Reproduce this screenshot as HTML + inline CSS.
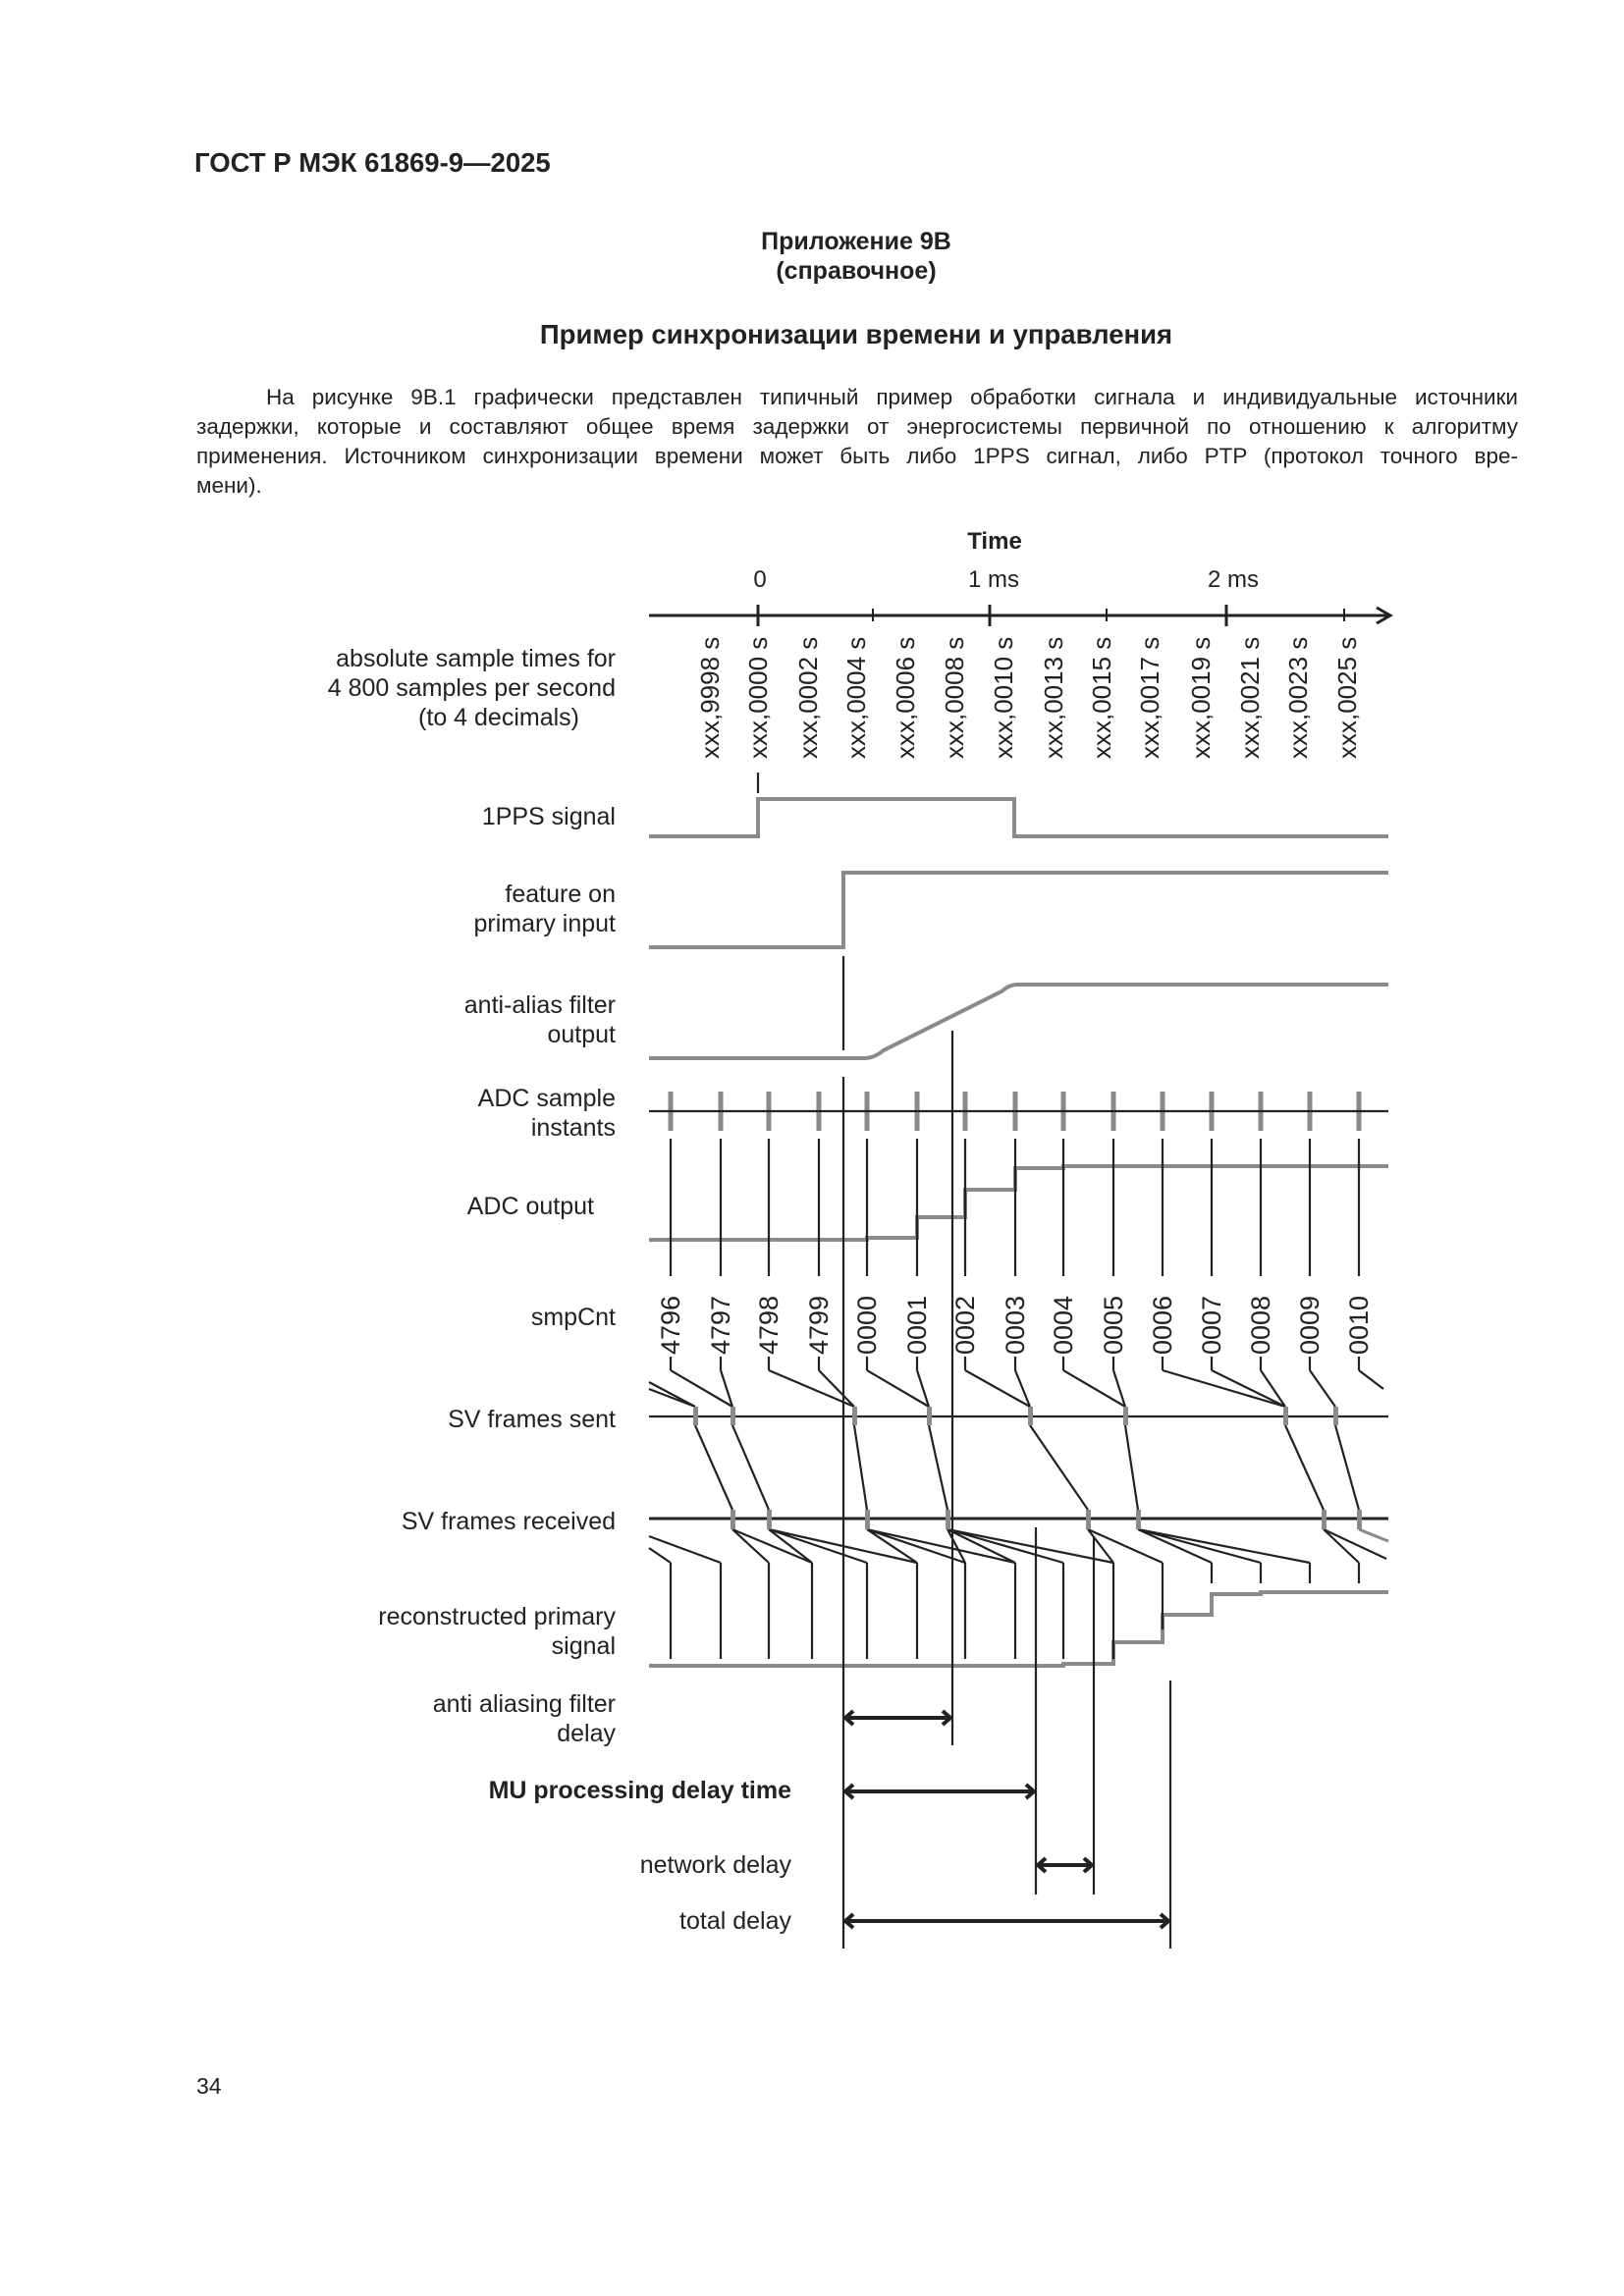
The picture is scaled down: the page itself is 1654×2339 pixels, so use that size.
<!DOCTYPE html>
<html><head><meta charset="utf-8"><style>
html,body{margin:0;padding:0;background:#fff;}
.pg{position:relative;width:1654px;height:2339px;overflow:hidden;font-family:"Liberation Sans Narrow","Liberation Sans",sans-serif;color:#222;}
.t{position:absolute;white-space:nowrap;}
.p{position:absolute;left:200px;width:1346px;font-size:22.5px;text-align:justify;text-align-last:justify;white-space:nowrap;}
</style></head><body><div class="pg">
<div class="t" style="left:198px;top:150px;font-size:27.5px;font-weight:bold;font-family:'Liberation Sans',sans-serif;">ГОСТ Р МЭК 61869-9—2025</div>
<div class="t" style="left:0;width:1744px;text-align:center;top:232px;font-size:25px;font-weight:bold;">Приложение 9В</div>
<div class="t" style="left:0;width:1744px;text-align:center;top:262px;font-size:25px;font-weight:bold;">(справочное)</div>
<div class="t" style="left:0;width:1744px;text-align:center;top:325px;font-size:27.5px;font-weight:bold;">Пример синхронизации времени и управления</div>
<div class="p" style="top:392px;padding-left:71px;width:1275px;">На рисунке 9В.1 графически представлен типичный пример обработки сигнала и индивидуальные источники</div>
<div class="p" style="top:422px;">задержки, которые и составляют общее время задержки от энергосистемы первичной по отношению к алгоритму</div>
<div class="p" style="top:452px;">применения. Источником синхронизации времени может быть либо 1PPS сигнал, либо PTP (протокол точного вре-</div>
<div class="p" style="top:482px;text-align-last:left;">мени).</div>
<div class="t" style="left:200px;top:2112px;font-size:23px;">34</div>
<svg width="1654" height="2339" style="position:absolute;left:0;top:0" font-family="Liberation Sans Narrow, Liberation Sans, sans-serif" fill="#222">
<g font-size="25" text-anchor="end">
<text x="627" y="679">absolute sample times for</text>
<text x="627" y="709">4 800 samples per second</text>
<text x="590" y="739">(to 4 decimals)</text>
<text x="627" y="840">1PPS signal</text>
<text x="627" y="919">feature on</text>
<text x="627" y="949">primary input</text>
<text x="627" y="1032">anti-alias filter</text>
<text x="627" y="1062">output</text>
<text x="627" y="1127">ADC sample</text>
<text x="627" y="1157">instants</text>
<text x="605" y="1237">ADC output</text>
<text x="627" y="1350">smpCnt</text>
<text x="627" y="1454">SV frames sent</text>
<text x="627" y="1558">SV frames received</text>
<text x="627" y="1655">reconstructed primary</text>
<text x="627" y="1685">signal</text>
<text x="627" y="1744">anti aliasing filter</text>
<text x="627" y="1774">delay</text>
<text x="806" y="1832" font-weight="bold">MU processing delay time</text>
<text x="806" y="1908">network delay</text>
<text x="806" y="1965">total delay</text>
</g>
<g font-size="24" text-anchor="middle">
<text x="1013" y="559" font-weight="bold">Time</text>
<text x="774" y="598">0</text>
<text x="1012" y="598">1 ms</text>
<text x="1256" y="598">2 ms</text>
</g>
<g stroke="#222" stroke-width="3" fill="none">
<line x1="661" y1="627" x2="1414" y2="627"/>
<polyline points="1402,619 1416,627 1402,635"/>
<line x1="772" y1="616" x2="772" y2="638"/><line x1="1008" y1="616" x2="1008" y2="638"/><line x1="1249" y1="616" x2="1249" y2="638"/>
<line x1="889" y1="620" x2="889" y2="633" stroke-width="2"/><line x1="1127" y1="620" x2="1127" y2="633" stroke-width="2"/><line x1="1369" y1="620" x2="1369" y2="633" stroke-width="2"/>
</g>
<g font-size="26" font-family="Liberation Sans, sans-serif">
<text transform="translate(732,773) rotate(-90)">xxx,9998 s</text>
<text transform="translate(781,773) rotate(-90)">xxx,0000 s</text>
<text transform="translate(832,773) rotate(-90)">xxx,0002 s</text>
<text transform="translate(881,773) rotate(-90)">xxx,0004 s</text>
<text transform="translate(931,773) rotate(-90)">xxx,0006 s</text>
<text transform="translate(981,773) rotate(-90)">xxx,0008 s</text>
<text transform="translate(1031,773) rotate(-90)">xxx,0010 s</text>
<text transform="translate(1082,773) rotate(-90)">xxx,0013 s</text>
<text transform="translate(1131,773) rotate(-90)">xxx,0015 s</text>
<text transform="translate(1180,773) rotate(-90)">xxx,0017 s</text>
<text transform="translate(1232,773) rotate(-90)">xxx,0019 s</text>
<text transform="translate(1282,773) rotate(-90)">xxx,0021 s</text>
<text transform="translate(1331,773) rotate(-90)">xxx,0023 s</text>
<text transform="translate(1381,773) rotate(-90)">xxx,0025 s</text>
</g>
<g font-size="27" font-family="Liberation Sans, sans-serif">
<text transform="translate(692,1380) rotate(-90)">4796</text>
<text transform="translate(743,1380) rotate(-90)">4797</text>
<text transform="translate(792,1380) rotate(-90)">4798</text>
<text transform="translate(843,1380) rotate(-90)">4799</text>
<text transform="translate(892,1380) rotate(-90)">0000</text>
<text transform="translate(943,1380) rotate(-90)">0001</text>
<text transform="translate(992,1380) rotate(-90)">0002</text>
<text transform="translate(1043,1380) rotate(-90)">0003</text>
<text transform="translate(1092,1380) rotate(-90)">0004</text>
<text transform="translate(1143,1380) rotate(-90)">0005</text>
<text transform="translate(1193,1380) rotate(-90)">0006</text>
<text transform="translate(1243,1380) rotate(-90)">0007</text>
<text transform="translate(1293,1380) rotate(-90)">0008</text>
<text transform="translate(1343,1380) rotate(-90)">0009</text>
<text transform="translate(1393,1380) rotate(-90)">0010</text>
</g>
<g stroke="#8a8a8a" stroke-width="4" fill="none">
<polyline points="661,852 772,852 772,814 1033,814 1033,852 1414,852"/>
<polyline points="661,965 859,965 859,889 1414,889"/>
<path d="M661,1078 L881,1078 Q890,1078 900,1070 L1020,1010 Q1028,1003 1036,1003 L1414,1003"/>
<polyline points="661,1263 883,1263 883,1261 934,1261 934,1240 983,1240 983,1212 1034,1212 1034,1190 1083,1190 1083,1188 1414,1188"/>
<polyline points="661,1697 1083,1697 1083,1695 1134,1695 1134,1673 1184,1673 1184,1645 1234,1645 1234,1624 1284,1624 1284,1622 1414,1622"/>
</g>
<g stroke="#8a8a8a" stroke-width="5">
<line x1="683" y1="1112" x2="683" y2="1152"/><line x1="734" y1="1112" x2="734" y2="1152"/><line x1="783" y1="1112" x2="783" y2="1152"/><line x1="834" y1="1112" x2="834" y2="1152"/><line x1="883" y1="1112" x2="883" y2="1152"/><line x1="934" y1="1112" x2="934" y2="1152"/><line x1="983" y1="1112" x2="983" y2="1152"/><line x1="1034" y1="1112" x2="1034" y2="1152"/><line x1="1083" y1="1112" x2="1083" y2="1152"/><line x1="1134" y1="1112" x2="1134" y2="1152"/><line x1="1184" y1="1112" x2="1184" y2="1152"/><line x1="1234" y1="1112" x2="1234" y2="1152"/><line x1="1284" y1="1112" x2="1284" y2="1152"/><line x1="1334" y1="1112" x2="1334" y2="1152"/><line x1="1384" y1="1112" x2="1384" y2="1152"/>
</g>
<g stroke="#222" stroke-width="2.2" fill="none">
<line x1="772" y1="787" x2="772" y2="808"/>
<line x1="661" y1="1132" x2="1414" y2="1132"/>
<line x1="661" y1="1443" x2="1414" y2="1443"/>
<line x1="661" y1="1547" x2="1414" y2="1547" stroke-width="3"/>
<line x1="859" y1="974" x2="859" y2="1070"/><line x1="859" y1="1097" x2="859" y2="1985"/>
<line x1="970" y1="1050" x2="970" y2="1778"/>
<line x1="1055" y1="1556" x2="1055" y2="1930"/>
<line x1="1114" y1="1565" x2="1114" y2="1930"/>
<line x1="1192" y1="1712" x2="1192" y2="1985"/>
<path d="M683,1160V1300M734,1160V1300M783,1160V1300M834,1160V1300M883,1160V1300M934,1160V1300M983,1160V1300M1034,1160V1300M1083,1160V1300M1134,1160V1300M1184,1160V1300M1234,1160V1300M1284,1160V1300M1334,1160V1300M1384,1160V1300"/>
<path d="M683,1382V1396M734,1382V1396M783,1382V1396M834,1382V1396M883,1382V1396M934,1382V1396M983,1382V1396M1034,1382V1396M1083,1382V1396M1134,1382V1396M1184,1382V1396M1234,1382V1396M1284,1382V1396M1334,1382V1396M1384,1382V1396"/>
<path d="M683,1396L746,1433M734,1396L746,1433M783,1396L870,1433M834,1396L870,1433M883,1396L946,1433M934,1396L946,1433M983,1396L1049,1433M1034,1396L1049,1433M1083,1396L1146,1433M1134,1396L1146,1433M1184,1396L1309,1433M1234,1396L1309,1433M1284,1396L1309,1433M1334,1396L1360,1433M1384,1396L1409,1415M661,1408L708,1433M661,1415L708,1433"/>
<path d="M708,1452L746,1538M746,1452L783,1538M870,1452L883,1538M946,1452L965,1538M1049,1452L1108,1538M1146,1452L1159,1538M1309,1452L1348,1538M1360,1452L1384,1538"/>
<path d="M661,1565L734,1592M661,1577L683,1592M746,1558L783,1592M746,1558L827,1592M783,1558L827,1592M783,1558L883,1592M783,1558L934,1592M883,1558L934,1592M883,1558L983,1592M883,1558L1034,1592M965,1558L983,1592M965,1558L1034,1592M965,1558L1083,1592M965,1558L1134,1592M1108,1558L1134,1592M1108,1558L1184,1592M1159,1558L1234,1592M1159,1558L1284,1592M1159,1558L1334,1592M1348,1558L1384,1592M1348,1558L1412,1588"/>
<path d="M683,1592V1690M734,1592V1690M783,1592V1690M827,1592V1690M883,1592V1690M934,1592V1690M983,1592V1690M1034,1592V1690M1083,1592V1690M1134,1592V1690M1184,1592V1660M1234,1592V1613M1284,1592V1613M1334,1592V1613M1384,1592V1613"/>
</g>
<g fill="#8a8a8a">
<rect x="706" y="1433" width="5" height="19"/><rect x="744" y="1433" width="5" height="19"/><rect x="868" y="1433" width="5" height="19"/><rect x="944" y="1433" width="5" height="19"/><rect x="1047" y="1433" width="5" height="19"/><rect x="1144" y="1433" width="5" height="19"/><rect x="1307" y="1433" width="5" height="19"/><rect x="1358" y="1433" width="5" height="19"/>
<rect x="744" y="1538" width="5" height="20"/><rect x="781" y="1538" width="5" height="20"/><rect x="881" y="1538" width="5" height="20"/><rect x="963" y="1538" width="5" height="20"/><rect x="1106" y="1538" width="5" height="20"/><rect x="1157" y="1538" width="5" height="20"/><rect x="1346" y="1538" width="5" height="20"/><rect x="1382" y="1538" width="5" height="20"/>
</g>
<line x1="1384" y1="1558" x2="1414" y2="1570" stroke="#8a8a8a" stroke-width="3"/>
<g stroke="#222" stroke-width="4" fill="none">
<line x1="861" y1="1750" x2="968" y2="1750"/><polyline points="869,1743 861,1750 869,1757"/><polyline points="960,1743 968,1750 960,1757"/>
<line x1="861" y1="1825" x2="1053" y2="1825"/><polyline points="869,1818 861,1825 869,1832"/><polyline points="1045,1818 1053,1825 1045,1832"/>
<line x1="1057" y1="1900" x2="1112" y2="1900"/><polyline points="1065,1893 1057,1900 1065,1907"/><polyline points="1104,1893 1112,1900 1104,1907"/>
<line x1="861" y1="1957" x2="1190" y2="1957"/><polyline points="869,1950 861,1957 869,1964"/><polyline points="1182,1950 1190,1957 1182,1964"/>
</g>
</svg>
</div></body></html>
